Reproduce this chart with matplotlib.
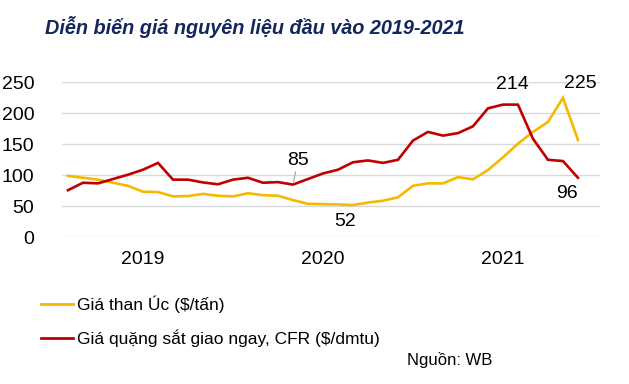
import matplotlib
matplotlib.use("Agg")
import matplotlib.pyplot as plt

plt.rcParams['font.family'] = ['Liberation Sans', 'DejaVu Sans']

# monthly data, Jan 2019 - Nov 2021 (World Bank)
coal = [99, 96, 93, 88, 83, 73.5, 73, 66, 66.5, 70, 67, 66, 71, 68, 67, 60,
        54, 53.5, 53, 52, 56, 59, 64.5, 83, 87, 87, 97, 93.5, 108.5, 129,
        151, 170, 186, 225, 157]
iron_ore = [76, 88, 87, 94, 101, 109, 120, 93, 93, 88.5, 85.5, 93, 96, 88,
            89, 85, 94, 103, 109, 121, 124, 120, 125, 156, 170, 164, 168,
            179, 208, 214, 214, 159, 125, 123, 96]
year_labels = ["2019", "2020", "2021"]
year_pos = [5, 17, 29]
yticks = [0, 50, 100, 150, 200, 250]

YELLOW = "#F5B900"
RED = "#C00000"
NAVY = "#13275E"

fig = plt.figure(figsize=(6.29, 3.84), dpi=100)
ax = fig.add_axes([62 / 629, 1 - 237.3 / 384, 538 / 629, 155 / 384])

x = list(range(len(coal)))
ax.plot(x, coal, color=YELLOW, lw=1.9, solid_joinstyle="miter", zorder=3)
ax.plot(x, iron_ore, color=RED, lw=1.9, solid_joinstyle="miter", zorder=3)

ax.set_xlim(-0.4, 35.47)
ax.set_ylim(0, 250)
ax.set_yticks(yticks)
ax.yaxis.grid(True, color="#D9D9D9", lw=1)
ax.set_axisbelow(True)
for s in ax.spines.values():
    s.set_visible(False)
ax.tick_params(axis="y", length=0, pad=20, labelsize=14)
ax.set_xticks(year_pos)
ax.set_xticklabels(year_labels)
ax.tick_params(axis="x", length=0, pad=10, labelsize=14)

# data labels
ax.annotate("85", xy=(15, iron_ore[15]), xytext=(5, 24),
            textcoords="offset pixels", ha="center", va="center", fontsize=14,
            arrowprops=dict(arrowstyle="-", color="#A0A0A0", lw=0.8,
                            shrinkA=0, shrinkB=2))
ax.annotate("52", xy=(19, coal[19]), xytext=(-8, -16),
            textcoords="offset pixels", ha="center", va="center", fontsize=14)
ax.annotate("214", xy=(29, iron_ore[29]), xytext=(9, 20),
            textcoords="offset pixels", ha="center", va="center", fontsize=14)
ax.annotate("225", xy=(33, coal[33]), xytext=(17, 14),
            textcoords="offset pixels", ha="center", va="center", fontsize=14)
ax.annotate("96", xy=(34, iron_ore[34]), xytext=(-11, -16),
            textcoords="offset pixels", ha="center", va="center", fontsize=14)

fig.text(255 / 629, 1 - 27 / 384, "Diễn biến giá nguyên liệu đầu vào 2019-2021",
         ha="center", va="center", fontsize=14.3, fontweight="bold",
         fontstyle="italic", color=NAVY)

# legend drawn by hand to mimic the layout
for yy, col, lab in [(304, YELLOW, "Giá than Úc ($/tấn)"),
                     (338, RED, "Giá quặng sắt giao ngay, CFR ($/dmtu)")]:
    fig.add_artist(plt.Line2D([41 / 629, 73 / 629], [1 - yy / 384] * 2,
                              color=col, lw=2.0))
    fig.text(77 / 629, 1 - yy / 384, lab, ha="left", va="center", fontsize=12.5)

fig.text(492 / 629, 1 - 360 / 384, "Nguồn: WB", ha="right", va="center",
         fontsize=12)

fig.savefig("out.png", dpi=100)
